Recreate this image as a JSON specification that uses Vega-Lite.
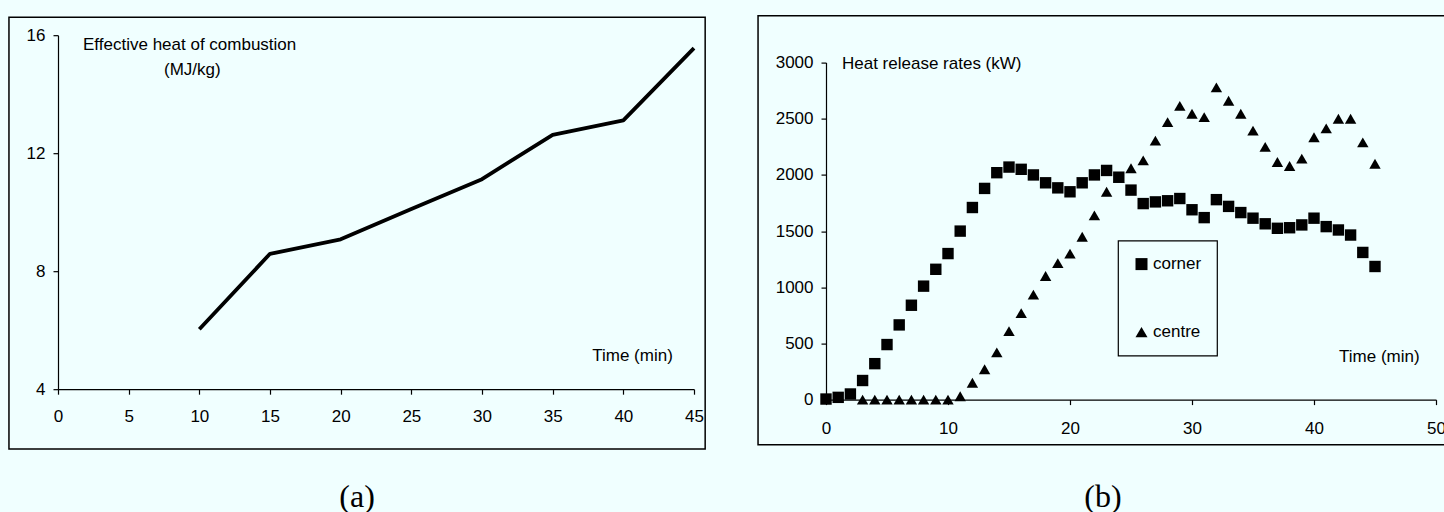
{
  "$schema": "https://vega.github.io/schema/vega-lite/v6.json",
  "background": "#F0FFFF",
  "padding": {"left": 8, "top": 14, "right": 0, "bottom": 0},
  "spacing": 51,
  "center": true,
  "resolve": {"legend": {"shape": "independent"}},
  "config": {
    "view": {"stroke": null},
    "font": "Liberation Sans",
    "axis": {
      "grid": false,
      "domainColor": "black",
      "domainWidth": 1.2,
      "tickColor": "black",
      "tickWidth": 1.2,
      "tickSize": 5,
      "labelColor": "black",
      "labelFont": "Liberation Sans",
      "labelFontSize": 17,
      "labelFlush": false,
      "labelOverlap": false,
      "labelBound": false
    },
    "axisX": {"labelPadding": 14},
    "axisY": {"labelPadding": 8},
    "legend": {"strokeWidth": 1.2},
    "text": {"font": "Liberation Sans", "fontSize": 17, "color": "black"},
    "title": {"font": "Liberation Serif", "fontSize": 32, "fontWeight": "normal", "color": "black", "frame": "bounds"}
  },
  "hconcat": [
    {
      "title": {"text": ["(a)", ""], "lineHeight": 28, "orient": "bottom", "anchor": "middle", "frame": "bounds", "offset": 32},
      "width": 636,
      "height": 354,
      "layer": [
        {
          "data": {"values": [{"panel": "a"}]},
          "mark": {"type": "rect", "filled": false, "stroke": "black", "strokeWidth": 1.5},
          "encoding": {
            "x": {"datum": -3.47, "type": "quantitative", "scale": {"domain": [0, 45]}},
            "x2": {"datum": 45.79},
            "y": {"datum": 1.97, "type": "quantitative", "scale": {"domain": [4, 16]}},
            "y2": {"datum": 16.61}
          }
        },
        {
          "data": {"values": [
            {"time": 10, "heat": 6.03},
            {"time": 15, "heat": 8.59},
            {"time": 20, "heat": 9.08},
            {"time": 25, "heat": 10.11},
            {"time": 30, "heat": 11.12},
            {"time": 35, "heat": 12.62},
            {"time": 40, "heat": 13.11},
            {"time": 45, "heat": 15.56}
          ]},
          "mark": {"type": "line", "color": "black", "strokeWidth": 3.8, "strokeJoin": "round"},
          "encoding": {
            "x": {"field": "time", "type": "quantitative", "scale": {"domain": [0, 45]},
                  "axis": {"title": null, "values": [0, 5, 10, 15, 20, 25, 30, 35, 40, 45]}},
            "y": {"field": "heat", "type": "quantitative", "scale": {"domain": [4, 16]},
                  "axis": {"title": null, "values": [4, 8, 12, 16]}}
          }
        },
        {
          "data": {"values": [{"label": "Effective heat of combustion"}]},
          "mark": {"type": "text", "align": "left", "baseline": "middle"},
          "encoding": {"text": {"field": "label"}, "x": {"datum": 1.77}, "y": {"datum": 15.66}}
        },
        {
          "data": {"values": [{"label": "(MJ/kg)"}]},
          "mark": {"type": "text", "align": "left", "baseline": "middle"},
          "encoding": {"text": {"field": "label"}, "x": {"datum": 7.5}, "y": {"datum": 14.81}}
        },
        {
          "data": {"values": [{"label": "Time (min)"}]},
          "mark": {"type": "text", "align": "left", "baseline": "middle"},
          "encoding": {"text": {"field": "label"}, "x": {"datum": 37.8}, "y": {"datum": 5.12}}
        }
      ]
    },
    {
      "title": {"text": "(b)", "orient": "bottom", "anchor": "middle", "frame": "bounds", "offset": 37},
      "width": 610,
      "height": 337,
      "layer": [
        {
          "data": {"values": [{"panel": "b"}]},
          "mark": {"type": "rect", "filled": false, "stroke": "black", "strokeWidth": 1.5},
          "encoding": {
            "x": {"datum": -5.57, "type": "quantitative", "scale": {"domain": [0, 50]}},
            "x2": {"datum": 50.98},
            "y": {"datum": -401, "type": "quantitative", "scale": {"domain": [0, 3000]}},
            "y2": {"datum": 3418}
          }
        },
        {
          "data": {"values": [
            {"time": 3, "series": "centre", "hrr": 0},
            {"time": 4, "series": "centre", "hrr": 0},
            {"time": 5, "series": "centre", "hrr": 0},
            {"time": 6, "series": "centre", "hrr": 0},
            {"time": 7, "series": "centre", "hrr": 0},
            {"time": 8, "series": "centre", "hrr": 0},
            {"time": 9, "series": "centre", "hrr": 0},
            {"time": 10, "series": "centre", "hrr": 0},
            {"time": 11, "series": "centre", "hrr": 30},
            {"time": 12, "series": "centre", "hrr": 150},
            {"time": 13, "series": "centre", "hrr": 270},
            {"time": 14, "series": "centre", "hrr": 420},
            {"time": 15, "series": "centre", "hrr": 610},
            {"time": 16, "series": "centre", "hrr": 770},
            {"time": 17, "series": "centre", "hrr": 935},
            {"time": 18, "series": "centre", "hrr": 1100},
            {"time": 19, "series": "centre", "hrr": 1215},
            {"time": 20, "series": "centre", "hrr": 1300},
            {"time": 21, "series": "centre", "hrr": 1450},
            {"time": 22, "series": "centre", "hrr": 1640},
            {"time": 23, "series": "centre", "hrr": 1850},
            {"time": 24, "series": "centre", "hrr": 1975},
            {"time": 25, "series": "centre", "hrr": 2060},
            {"time": 26, "series": "centre", "hrr": 2130},
            {"time": 27, "series": "centre", "hrr": 2305},
            {"time": 28, "series": "centre", "hrr": 2470},
            {"time": 29, "series": "centre", "hrr": 2615},
            {"time": 30, "series": "centre", "hrr": 2545},
            {"time": 31, "series": "centre", "hrr": 2515},
            {"time": 32, "series": "centre", "hrr": 2780},
            {"time": 33, "series": "centre", "hrr": 2660},
            {"time": 34, "series": "centre", "hrr": 2545},
            {"time": 35, "series": "centre", "hrr": 2395},
            {"time": 36, "series": "centre", "hrr": 2250},
            {"time": 37, "series": "centre", "hrr": 2115},
            {"time": 38, "series": "centre", "hrr": 2080},
            {"time": 39, "series": "centre", "hrr": 2145},
            {"time": 40, "series": "centre", "hrr": 2335},
            {"time": 41, "series": "centre", "hrr": 2415},
            {"time": 42, "series": "centre", "hrr": 2500},
            {"time": 43, "series": "centre", "hrr": 2500},
            {"time": 44, "series": "centre", "hrr": 2290},
            {"time": 45, "series": "centre", "hrr": 2100},
            {"time": 0, "series": "corner", "hrr": 5},
            {"time": 1, "series": "corner", "hrr": 20},
            {"time": 2, "series": "corner", "hrr": 50},
            {"time": 3, "series": "corner", "hrr": 170},
            {"time": 4, "series": "corner", "hrr": 320},
            {"time": 5, "series": "corner", "hrr": 490},
            {"time": 6, "series": "corner", "hrr": 665},
            {"time": 7, "series": "corner", "hrr": 840},
            {"time": 8, "series": "corner", "hrr": 1010},
            {"time": 9, "series": "corner", "hrr": 1160},
            {"time": 10, "series": "corner", "hrr": 1300},
            {"time": 11, "series": "corner", "hrr": 1500},
            {"time": 12, "series": "corner", "hrr": 1710},
            {"time": 13, "series": "corner", "hrr": 1880},
            {"time": 14, "series": "corner", "hrr": 2020},
            {"time": 15, "series": "corner", "hrr": 2070},
            {"time": 16, "series": "corner", "hrr": 2050},
            {"time": 17, "series": "corner", "hrr": 2000},
            {"time": 18, "series": "corner", "hrr": 1930},
            {"time": 19, "series": "corner", "hrr": 1885},
            {"time": 20, "series": "corner", "hrr": 1850},
            {"time": 21, "series": "corner", "hrr": 1930},
            {"time": 22, "series": "corner", "hrr": 2000},
            {"time": 23, "series": "corner", "hrr": 2040},
            {"time": 24, "series": "corner", "hrr": 1980},
            {"time": 25, "series": "corner", "hrr": 1865},
            {"time": 26, "series": "corner", "hrr": 1745},
            {"time": 27, "series": "corner", "hrr": 1760},
            {"time": 28, "series": "corner", "hrr": 1770},
            {"time": 29, "series": "corner", "hrr": 1790},
            {"time": 30, "series": "corner", "hrr": 1690},
            {"time": 31, "series": "corner", "hrr": 1620},
            {"time": 32, "series": "corner", "hrr": 1780},
            {"time": 33, "series": "corner", "hrr": 1720},
            {"time": 34, "series": "corner", "hrr": 1665},
            {"time": 35, "series": "corner", "hrr": 1615},
            {"time": 36, "series": "corner", "hrr": 1565},
            {"time": 37, "series": "corner", "hrr": 1525},
            {"time": 38, "series": "corner", "hrr": 1530},
            {"time": 39, "series": "corner", "hrr": 1555},
            {"time": 40, "series": "corner", "hrr": 1615},
            {"time": 41, "series": "corner", "hrr": 1540},
            {"time": 42, "series": "corner", "hrr": 1510},
            {"time": 43, "series": "corner", "hrr": 1465},
            {"time": 44, "series": "corner", "hrr": 1310},
            {"time": 45, "series": "corner", "hrr": 1185}
          ]},
          "mark": {"type": "point", "filled": true, "color": "black", "size": 130, "opacity": 1},
          "encoding": {
            "x": {"field": "time", "type": "quantitative", "scale": {"domain": [0, 50]},
                  "axis": {"title": null, "values": [0, 10, 20, 30, 40, 50], "labelPadding": 16}},
            "y": {"field": "hrr", "type": "quantitative", "scale": {"domain": [0, 3000]},
                  "axis": {"title": null, "format": "d", "values": [0, 500, 1000, 1500, 2000, 2500, 3000]}},
            "shape": {
              "field": "series", "type": "nominal",
              "scale": {"domain": ["corner", "centre"], "range": ["square", "triangle-up"]},
              "legend": {
                "title": null, "orient": "none", "legendX": 292, "legendY": 178,
                "strokeColor": "black", "padding": 15,
                "rowPadding": 50, "symbolSize": 144, "symbolFillColor": "black",
                "symbolStrokeColor": "black", "symbolStrokeWidth": 0, "symbolOpacity": 1,
                "labelFontSize": 17, "labelFont": "Liberation Sans", "labelColor": "black",
                "labelOffset": 3
              }
            }
          }
        },
        {
          "data": {"values": [{"label": "Heat release rates (kW)"}]},
          "mark": {"type": "text", "align": "left", "baseline": "middle"},
          "encoding": {"text": {"field": "label"}, "x": {"datum": 1.31}, "y": {"datum": 2991}}
        },
        {
          "data": {"values": [{"label": "Time (min)"}]},
          "mark": {"type": "text", "align": "left", "baseline": "middle"},
          "encoding": {"text": {"field": "label"}, "x": {"datum": 42.05}, "y": {"datum": 383}}
        }
      ]
    }
  ]
}
